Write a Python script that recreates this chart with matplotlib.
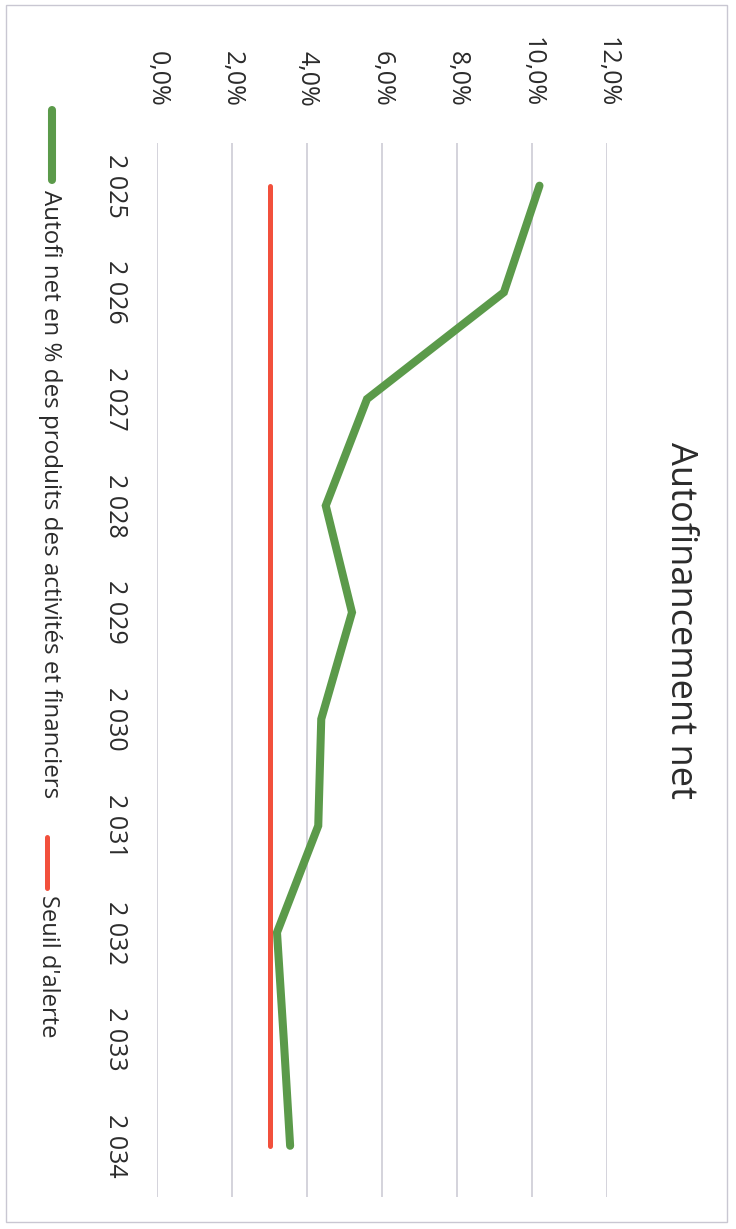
import matplotlib
matplotlib.use("Agg")
import matplotlib.pyplot as plt
from matplotlib.lines import Line2D
from matplotlib.patches import Rectangle
from matplotlib.ticker import FuncFormatter

years = [2025, 2026, 2027, 2028, 2029, 2030, 2031, 2032, 2033, 2034]
autofi_net = [10.2, 9.25, 5.6, 4.5, 5.2, 4.38, 4.3, 3.2, 3.38, 3.55]
seuil_alerte = [3.0] * len(years)
pct_ticks = [0, 2, 4, 6, 8, 10, 12]

title = "Autofinancement net"
label_autofi = "Autofi net en % des produits des activités et financiers"
label_seuil = "Seuil d'alerte"

GREEN = "#5b9a4a"
RED = "#f2503c"
GRID = "#c9c7d2"
TEXT = "#2b2b2b"

plt.rcParams['font.family'] = ['Open Sans', 'DejaVu Sans']

fig = plt.figure(figsize=(7.36, 12.29), dpi=100)
W, H = 736, 1229

# chart is drawn turned a quarter turn: years run down, percentages run right
ax = fig.add_axes([157 / W, 1 - 1197 / H, 450 / W, 1054 / H])
ax.plot(seuil_alerte, years, color=RED, lw=3.6, solid_capstyle='round', zorder=3)
ax.plot(autofi_net, years, color=GREEN, lw=5.8, solid_capstyle='round',
        solid_joinstyle='miter', zorder=4)

ax.set_xlim(0, 12)
ax.set_ylim(2034.48, 2024.6)
ax.set_xticks(pct_ticks)
ax.set_yticks(years)
ax.xaxis.set_major_formatter(FuncFormatter(lambda v, p: f"{v:.1f}%".replace(".", ",")))
ax.yaxis.set_major_formatter(FuncFormatter(lambda v, p: f"{int(v):,}".replace(",", " ")))
ax.xaxis.tick_top()
ax.tick_params(axis='x', length=0, pad=26, labelsize=18, labelcolor=TEXT,
               labelrotation=-90)
ax.tick_params(axis='y', length=0, pad=21, labelsize=18, labelcolor=TEXT,
               labelrotation=-90)
for t in ax.get_yticklabels():
    t.set_va('center')
for t in ax.get_xticklabels():
    t.set_ha('center')
    t.set_va('bottom')
ax.grid(axis='x', color=GRID, lw=1.1)
ax.grid(axis='y', visible=False)
for s in ax.spines.values():
    s.set_visible(False)

# title on the right side
fig.text(680 / W, 1 - 620 / H, title, rotation=-90, ha='center', va='center',
         fontsize=26, color=TEXT)

# legend on the left side
fig.add_artist(Line2D([52 / W, 52 / W], [1 - 110 / H, 1 - 180 / H],
                      color=GREEN, lw=5.8, solid_capstyle='round'))
fig.text(50 / W, 1 - 190 / H, label_autofi, rotation=-90, ha='center', va='top',
         fontsize=17.4, color=TEXT)
fig.add_artist(Line2D([47 / W, 47 / W], [1 - 837 / H, 1 - 888 / H],
                      color=RED, lw=3.6, solid_capstyle='round'))
fig.text(48 / W, 1 - 895 / H, label_seuil, rotation=-90, ha='center', va='top',
         fontsize=17, color=TEXT)

# outer frame
fig.add_artist(Rectangle((6 / W, 1 - 1222 / H), 721 / W, 1217 / H, fill=False,
                         ec=GRID, lw=1.0, transform=fig.transFigure))

fig.savefig("out.png", dpi=100)
